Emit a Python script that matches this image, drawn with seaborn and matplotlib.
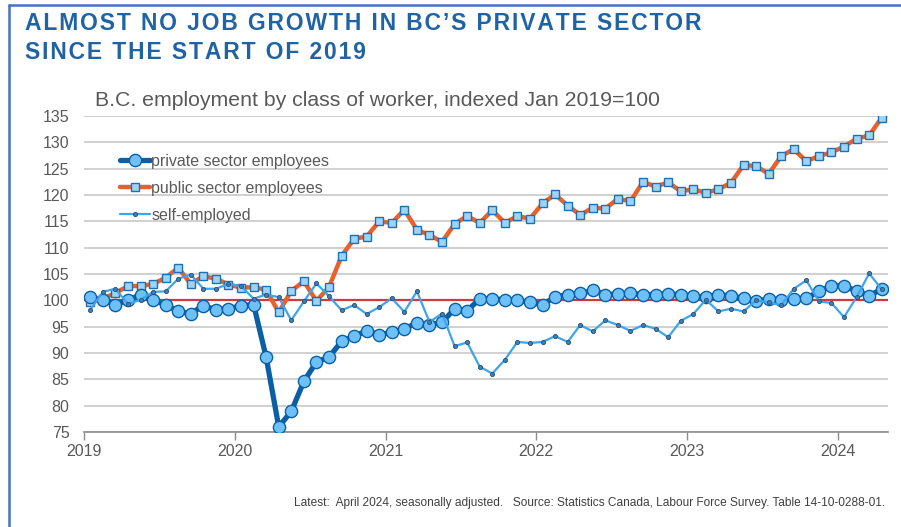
import numpy as np
import pandas as pd
import seaborn as sns
import matplotlib.pyplot as plt
from matplotlib.lines import Line2D

# Datos mensuales, ene 2019 - abr 2024 (indice ene 2019 = 100)
meses = pd.date_range('2019-01-01', '2024-04-01', freq='MS')

privado = [100.6, 100.0, 99.2, 100.0, 101.1, 100.0, 99.2, 97.9, 97.5, 99.0, 98.2, 98.4,
           99.0, 99.2, 89.2, 76.0, 78.9, 84.6, 88.3, 89.2, 92.2, 93.2, 94.2, 93.5,
           93.9, 94.6, 95.7, 95.4, 95.8, 98.4, 98.0, 100.3, 100.3, 100.1, 100.0, 99.6,
           99.2, 100.6, 101.1, 101.3, 101.9, 101.1, 101.2, 101.3, 101.1, 101.1, 101.2, 101.1,
           100.8, 100.6, 101.1, 100.8, 100.4, 99.8, 100.3, 100.1, 100.3, 100.4, 101.7, 102.7,
           102.8, 101.7, 100.9, 102.1]

publico = [99.7, 100.3, 101.4, 102.7, 102.7, 103.1, 104.3, 106.2, 103.1, 104.6, 104.1, 103.0,
           102.4, 102.5, 102.0, 97.7, 101.8, 103.6, 99.9, 102.5, 108.4, 111.7, 112.1, 115.0,
           114.7, 117.2, 113.4, 112.4, 111.1, 114.5, 116.0, 114.7, 117.1, 114.7, 116.0, 115.5,
           118.4, 120.1, 118.0, 116.2, 117.6, 117.4, 119.3, 118.8, 122.5, 121.6, 122.4, 120.7,
           121.1, 120.4, 121.1, 122.3, 125.7, 125.5, 124.0, 127.4, 128.7, 126.4, 127.4, 128.1,
           129.2, 130.7, 131.3, 134.7]

autonomo = [98.2, 101.6, 102.2, 99.3, 100.1, 101.6, 101.7, 104.1, 104.9, 102.2, 102.2, 103.1,
            102.7, 100.3, 101.1, 100.6, 96.2, 99.8, 103.2, 100.8, 98.1, 99.1, 97.4, 98.7,
            100.4, 97.8, 101.7, 95.9, 97.5, 91.3, 92.0, 87.4, 86.1, 88.7, 92.1, 91.9,
            92.1, 93.2, 92.1, 95.3, 94.1, 96.2, 95.3, 94.2, 95.3, 94.6, 93.0, 96.1,
            97.4, 100.1, 97.9, 98.4, 97.9, 100.0, 99.6, 99.1, 102.2, 103.8, 99.8, 99.5,
            96.8, 100.6, 105.1, 102.1]

anios = ['2019', '2020', '2021', '2022', '2023', '2024']

df = pd.DataFrame({'mes': np.arange(len(meses)), 'privado': privado,
                   'publico': publico, 'autonomo': autonomo})

gris = '#595959'
sns.set_style('white')
plt.rcParams['font.family'] = ['Liberation Sans', 'DejaVu Sans']

fig = plt.figure(figsize=(9.01, 5.27), dpi=100)
ax = fig.add_axes([84 / 901, 95 / 527, 804 / 901, 316 / 527])

# Lineas de las series
sns.lineplot(data=df, x='mes', y='publico', ax=ax, color='#E8602C', lw=3.2,
             marker='s', markersize=5.2, markerfacecolor='#9DD3F5',
             markeredgecolor='#1F6FB5', markeredgewidth=1.0, zorder=3,
             label='public sector employees')
sns.lineplot(data=df, x='mes', y='privado', ax=ax, color='#0B5FA5', lw=3.8,
             marker='o', markersize=8.8, markerfacecolor='#6EC1F7',
             markeredgecolor='#0B5FA5', markeredgewidth=1.0, zorder=4,
             label='private sector employees')
sns.lineplot(data=df, x='mes', y='autonomo', ax=ax, color='#3DA5EC', lw=1.6,
             marker='o', markersize=3, markerfacecolor='#3D7FB8',
             markeredgecolor='#2B4F70', markeredgewidth=0.6, zorder=5,
             label='self-employed')

ax.axhline(100, color='#D0393E', lw=1.6, zorder=2)

# Ejes
ax.set_ylim(75, 135)
ax.set_yticks(range(75, 136, 5))
ax.set_xlim(-0.5, len(meses) - 0.5)
ax.set_xticks(np.arange(len(anios)) * 12 - 0.5)
ax.set_xticklabels(anios)
ax.set_xlabel('')
ax.set_ylabel('')
ax.grid(axis='y', color='#C8C8C8', lw=1.2)
ax.set_axisbelow(True)
for s in ['top', 'right', 'left']:
    ax.spines[s].set_visible(False)
ax.spines['bottom'].set_color('#8C8C8C')
ax.spines['bottom'].set_linewidth(1.2)
ax.tick_params(axis='x', bottom=True, length=6, width=1.0, color='#8C8C8C',
               labelsize=11.5, labelcolor=gris, pad=3)
ax.tick_params(axis='y', left=False, labelsize=11.5, labelcolor=gris, pad=7)

# Leyenda
h, l = ax.get_legend_handles_labels()
orden = [1, 0, 2]
ax.legend([h[i] for i in orden], [l[i] for i in orden], loc='upper left',
          bbox_to_anchor=(0.035, 0.905), frameon=False, fontsize=11.5,
          handlelength=1.9, handletextpad=0.05, labelspacing=0.75,
          borderpad=0, labelcolor=gris)

# Textos (titulo con espaciado entre letras)
titulo = ["ALMOST NO JOB GROWTH IN BC’S PRIVATE SECTOR", "SINCE THE START OF 2019"]
titulo = '\n'.join('\u200a'.join(t) for t in titulo)
fig.text(25 / 901, 1 - 12 / 527, titulo,
         ha='left', va='top', fontsize=16.5, fontweight='bold', color='#1F63A4',
         linespacing=1.35, family=['Liberation Sans', 'DejaVu Sans'])
fig.text(95 / 901, 1 - 101 / 527, 'B.C. employment by class of worker, indexed Jan 2019=100',
         ha='left', va='center', fontsize=15.3, color=gris)
fig.text(885 / 901, 1 - 503 / 527,
         'Latest:  April 2024, seasonally adjusted.   Source: Statistics Canada, Labour Force Survey. Table 14-10-0288-01.',
         ha='right', va='center', fontsize=8.6, color='#404040')

# Marco azul
fig.add_artist(Line2D([8.5 / 901, 1], [1 - 5 / 527, 1 - 5 / 527], color='#4472C4', lw=1.8))
fig.add_artist(Line2D([8.5 / 901, 8.5 / 901], [0, 1 - 5 / 527], color='#4472C4', lw=1.8))

fig.savefig('out.png', dpi=100)
